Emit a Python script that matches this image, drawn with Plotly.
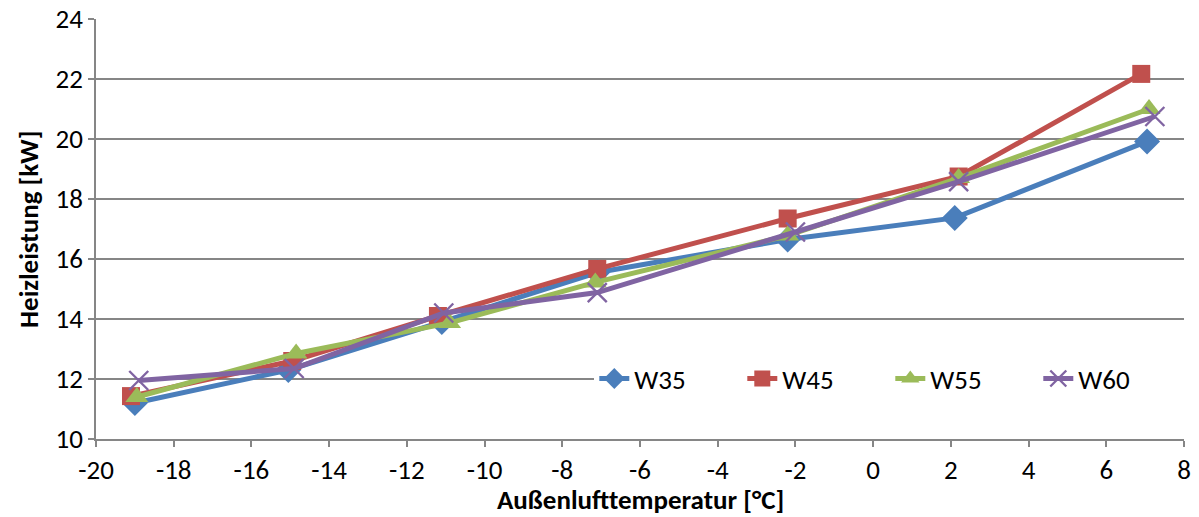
import plotly.graph_objects as go

# Outdoor air temperature (°C) per measuring point and series
temp_w35 = [-19.0, -15.05, -11.1, -7.1, -2.2, 2.1, 7.05]
temp_w45 = [-19.1, -14.95, -11.2, -7.1, -2.2, 2.2, 6.9]
temp_w55 = [-18.95, -14.85, -10.9, -7.15, -2.2, 2.2, 7.1]
temp_w60 = [-18.9, -14.9, -11.05, -7.1, -2.0, 2.2, 7.25]

# Heating capacity (kW)
heat_w35 = [11.2, 12.3, 13.9, 15.55, 16.65, 17.37, 19.92]
heat_w45 = [11.43, 12.6, 14.1, 15.67, 17.35, 18.75, 22.17]
heat_w55 = [11.4, 12.85, 13.87, 15.22, 16.78, 18.7, 21.0]
heat_w60 = [11.95, 12.35, 14.2, 14.88, 16.9, 18.58, 20.75]

series_names = ["W35", "W45", "W55", "W60"]

x_ticks = list(range(-20, 9, 2))
y_ticks = list(range(10, 25, 2))

FONT = "Carlito, Calibri, Lato, sans-serif"
GRID = "#868686"

styles = [
    dict(color="#4A7EBB", symbol="diamond", size=20, lw=0),
    dict(color="#C0504D", symbol="square", size=18, lw=0),
    dict(color="#9BBB59", symbol="triangle-up", size=20, lw=0),
    dict(color="#8064A2", symbol="x-thin", size=19, lw=2.4),
]

fig = go.Figure()
for name, xs, ys, st in zip(series_names,
                            [temp_w35, temp_w45, temp_w55, temp_w60],
                            [heat_w35, heat_w45, heat_w55, heat_w60],
                            styles):
    fig.add_trace(go.Scatter(
        x=xs, y=ys, name=name, mode="lines+markers",
        line=dict(color=st["color"], width=5),
        marker=dict(symbol=st["symbol"], size=st["size"], color=st["color"],
                    line=dict(color=st["color"], width=st["lw"])),
    ))

fig.update_layout(
    width=1199, height=517,
    margin=dict(l=96, r=15, t=19, b=78, autoexpand=False),
    paper_bgcolor="white", plot_bgcolor="white",
    font=dict(family=FONT, size=27, color="black"),
    showlegend=True,
    legend=dict(
        orientation="h", x=0.458, xanchor="left", y=0.143, yanchor="middle",
        bgcolor="white", font=dict(family=FONT, size=27, color="black"),
        entrywidth=103, entrywidthmode="pixels",
        traceorder="normal",
    ),
    xaxis=dict(
        range=[-20, 8], tickvals=x_ticks, ticktext=[str(v) for v in x_ticks],
        showgrid=False, zeroline=False, automargin=False,
        showline=True, linecolor=GRID, linewidth=1.5,
        ticks="outside", ticklen=6, tickcolor=GRID, tickwidth=1.5,
    ),
    yaxis=dict(
        range=[10, 24], tickvals=y_ticks, ticktext=[str(v) for v in y_ticks],
        showgrid=True, gridcolor=GRID, gridwidth=1.5, zeroline=False,
        automargin=False,
        showline=True, linecolor=GRID, linewidth=1.5,
        ticks="outside", ticklen=6, tickcolor=GRID, tickwidth=1.5,
    ),
    annotations=[
        dict(text="<b>Außenlufttemperatur [°C]</b>", xref="paper", yref="paper",
             x=0.5, y=-0.145, xanchor="center", yanchor="middle",
             showarrow=False, font=dict(family=FONT, size=27)),
        dict(text="<b>Heizleistung [kW]</b>", xref="paper", yref="paper",
             x=-0.0625, y=0.5, xanchor="center", yanchor="middle",
             textangle=-90, showarrow=False, font=dict(family=FONT, size=27)),
    ],
)

fig.write_html("out.html")
